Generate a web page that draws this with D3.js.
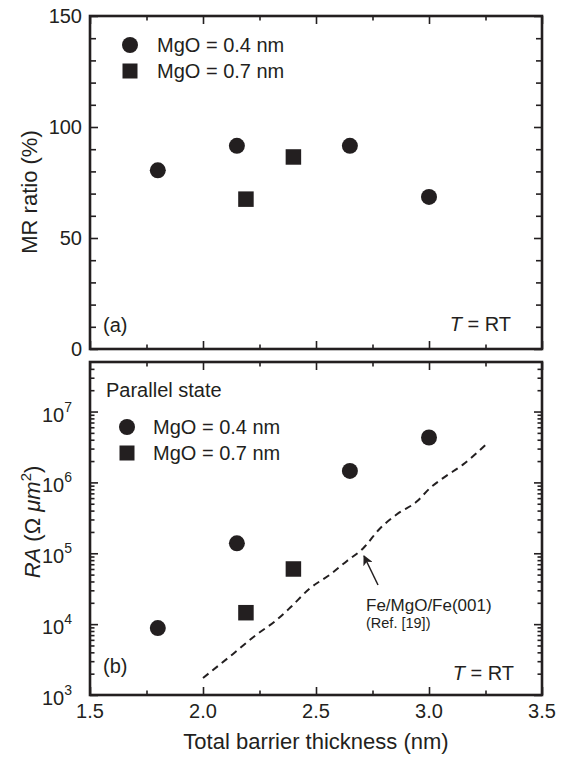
<!DOCTYPE html>
<html>
<head>
<meta charset="utf-8">
<script src="https://cdn.jsdelivr.net/npm/d3@7"></script>
<style>
  html, body { margin: 0; padding: 0; background: #fff; }
  svg { display: block; }
  text { font-family: "Liberation Sans", Arial, Helvetica, sans-serif; fill: #231f20; }
</style>
</head>
<body>
<svg id="chart" width="569" height="757"></svg>
<script>
// ---- Data ----
const thickness04 = [1.8, 2.15, 2.65, 3.0];
const mr04 = [80.5, 91.5, 91.5, 68.5];
const thickness07 = [2.19, 2.4];
const mr07 = [67.5, 86.5];
const ra04 = [8.8e3, 1.38e5, 1.45e6, 4.3e6];
const ra07 = [1.45e4, 6.0e4];
// Fe/MgO/Fe(001) reference curve (Ref. [19])
const refThickness = [2.0, 2.133, 2.239, 2.319, 2.385, 2.473, 2.562, 2.637, 2.708, 2.783, 2.858, 2.947, 3.004, 3.062, 3.15, 3.257];
const refRA = [1.74e3, 3.8e3, 7.2e3, 1.1e4, 1.7e4, 3.2e4, 5.0e4, 7.8e4, 1.17e5, 2.24e5, 3.55e5, 5.4e5, 8.3e5, 1.15e6, 1.78e6, 3.55e6];

const xTicksMajor = [1.5, 2.0, 2.5, 3.0, 3.5];
const xTicksMinor = [1.75, 2.25, 2.75, 3.25];
const xTickLabels = ["1.5", "2.0", "2.5", "3.0", "3.5"];
const mrTicksMajor = [0, 50, 100, 150];
const mrTicksMinor = [10, 20, 30, 40, 60, 70, 80, 90, 110, 120, 130, 140];
const raTicksMajor = [1e3, 1e4, 1e5, 1e6, 1e7];
const raExponents = [3, 4, 5, 6, 7];
const legendLabels = ["MgO = 0.4 nm", "MgO = 0.7 nm"];

// ---- Layout ----
const ink = "#231f20";
const L = 90, R = 542;
const topT = 16, topB = 349;
const botT = 362, botB = 695;

const svg = d3.select("#chart");

const x = d3.scaleLinear().domain([1.5, 3.5]).range([L, R]);
const yMR = d3.scaleLinear().domain([0, 150]).range([topB, topT]);
const yRA = d3.scaleLog().domain([1e3, 5e7]).range([botB, botT]);

const raMinor = [];
for (let e = 3; e <= 7; e++) for (let m = 2; m <= 9; m++) {
  const v = m * Math.pow(10, e);
  if (v < 5e7) raMinor.push(v);
}

function drawTicks(g, axisFn, scale, values, size, pos) {
  const a = axisFn(scale).tickValues(values).tickSize(size).tickSizeOuter(0).tickFormat("");
  const gg = g.append("g").attr("transform", pos).call(a);
  gg.select(".domain").remove();
  gg.selectAll(".tick line").attr("stroke", ink).attr("stroke-width", 1.6);
  return gg;
}

function panelFrame(t, b, yScale, majorY, minorY, majorLen, minorLen) {
  const g = svg.append("g");
  drawTicks(g, d3.axisBottom, x, xTicksMajor, -8, `translate(0,${b})`);
  drawTicks(g, d3.axisBottom, x, xTicksMinor, -4.5, `translate(0,${b})`);
  drawTicks(g, d3.axisTop, x, xTicksMajor, -8, `translate(0,${t})`);
  drawTicks(g, d3.axisTop, x, xTicksMinor, -4.5, `translate(0,${t})`);
  drawTicks(g, d3.axisLeft, yScale, majorY, -majorLen, `translate(${L},0)`);
  drawTicks(g, d3.axisLeft, yScale, minorY, -minorLen, `translate(${L},0)`);
  drawTicks(g, d3.axisRight, yScale, majorY, -majorLen, `translate(${R},0)`);
  drawTicks(g, d3.axisRight, yScale, minorY, -minorLen, `translate(${R},0)`);
  g.append("rect").attr("x", L).attr("y", t).attr("width", R - L).attr("height", b - t)
    .attr("fill", "none").attr("stroke", ink).attr("stroke-width", 2.6);
  return g;
}

// ---- Top panel (a) ----
panelFrame(topT, topB, yMR, mrTicksMajor, mrTicksMinor, 8, 6);
svg.append("g").selectAll("text").data(mrTicksMajor).join("text")
  .attr("x", 82).attr("y", d => yMR(d) + 7).attr("text-anchor", "end")
  .attr("font-size", 20).text(d => d);

svg.append("g").selectAll("circle").data(thickness04).join("circle")
  .attr("cx", d => x(d)).attr("cy", (d, i) => yMR(mr04[i])).attr("r", 8).attr("fill", ink);
svg.append("g").selectAll("rect").data(thickness07).join("rect")
  .attr("x", d => x(d) - 7.75).attr("y", (d, i) => yMR(mr07[i]) - 7.75)
  .attr("width", 15.5).attr("height", 15.5).attr("fill", ink);

// legend (a)
svg.append("circle").attr("cx", 130).attr("cy", 45).attr("r", 8).attr("fill", ink);
svg.append("rect").attr("x", 122.5).attr("y", 63.5).attr("width", 15).attr("height", 15).attr("fill", ink);
svg.append("text").attr("x", 157).attr("y", 52).attr("font-size", 20).text(legendLabels[0]);
svg.append("text").attr("x", 157).attr("y", 78).attr("font-size", 20).text(legendLabels[1]);

svg.append("text").attr("x", 103).attr("y", 332).attr("font-size", 20).text("(a)");
const tA = svg.append("text").attr("x", 511).attr("y", 331).attr("font-size", 20).attr("text-anchor", "end");
tA.append("tspan").attr("font-style", "italic").text("T");
tA.append("tspan").text(" = RT");

svg.append("text").attr("transform", "translate(37,192) rotate(-90)")
  .attr("text-anchor", "middle").attr("font-size", 22).text("MR ratio (%)");

// ---- Bottom panel (b) ----
panelFrame(botT, botB, yRA, raTicksMajor, raMinor, 8, 4.5);

const raLab = svg.append("g").selectAll("text").data(raTicksMajor).join("text")
  .attr("x", 72).attr("y", d => yRA(d) + 10).attr("text-anchor", "end").attr("font-size", 20);
raLab.append("tspan").text("10");
raLab.append("tspan").attr("font-size", 14).attr("dy", -10).text((d, i) => raExponents[i]);

svg.append("g").selectAll("text").data(xTicksMajor).join("text")
  .attr("x", d => x(d)).attr("y", 718).attr("text-anchor", "middle")
  .attr("font-size", 20).text((d, i) => xTickLabels[i]);

// reference dashed curve
const line = d3.line().x(d => x(d[0])).y(d => yRA(d[1])).curve(d3.curveMonotoneX);
svg.append("path").datum(refThickness.map((t, i) => [t, refRA[i]]))
  .attr("d", line).attr("fill", "none").attr("stroke", ink)
  .attr("stroke-width", 2).attr("stroke-dasharray", "7,5");

svg.append("g").selectAll("circle").data(thickness04).join("circle")
  .attr("cx", d => x(d)).attr("cy", (d, i) => yRA(ra04[i])).attr("r", 8).attr("fill", ink);
svg.append("g").selectAll("rect").data(thickness07).join("rect")
  .attr("x", d => x(d) - 7.75).attr("y", (d, i) => yRA(ra07[i]) - 7.75)
  .attr("width", 15.5).attr("height", 15.5).attr("fill", ink);

// legend (b)
svg.append("text").attr("x", 106).attr("y", 397).attr("font-size", 20).text("Parallel state");
svg.append("circle").attr("cx", 127).attr("cy", 427).attr("r", 8).attr("fill", ink);
svg.append("rect").attr("x", 119.5).attr("y", 445.5).attr("width", 15).attr("height", 15).attr("fill", ink);
svg.append("text").attr("x", 153).attr("y", 434).attr("font-size", 20).text(legendLabels[0]);
svg.append("text").attr("x", 153).attr("y", 460).attr("font-size", 20).text(legendLabels[1]);

// annotation arrow
svg.append("defs").append("marker").attr("id", "ah").attr("viewBox", "0 0 10 10")
  .attr("refX", 9).attr("refY", 5).attr("markerWidth", 10).attr("markerHeight", 10)
  .attr("markerUnits", "userSpaceOnUse").attr("orient", "auto")
  .append("path").attr("d", "M0,0 L10,5 L0,10 L2.5,5 Z").attr("fill", ink);
svg.append("line").attr("x1", 378).attr("y1", 585).attr("x2", 364).attr("y2", 556)
  .attr("stroke", ink).attr("stroke-width", 1.5).attr("marker-end", "url(#ah)");
svg.append("text").attr("x", 366).attr("y", 611).attr("font-size", 17).text("Fe/MgO/Fe(001)");
svg.append("text").attr("x", 366).attr("y", 628).attr("font-size", 14.5).text("(Ref. [19])");

svg.append("text").attr("x", 103).attr("y", 673).attr("font-size", 20).text("(b)");
const tB = svg.append("text").attr("x", 514).attr("y", 680).attr("font-size", 20).attr("text-anchor", "end");
tB.append("tspan").attr("font-style", "italic").text("T");
tB.append("tspan").text(" = RT");

const yl = svg.append("text").attr("transform", "translate(40,522) rotate(-90)")
  .attr("text-anchor", "middle").attr("font-size", 22);
yl.append("tspan").attr("font-style", "italic").text("RA");
yl.append("tspan").text(" (Ω ");
yl.append("tspan").attr("font-style", "italic").text("μm");
yl.append("tspan").attr("font-size", 15).attr("dy", -9).text("2");
yl.append("tspan").attr("dy", 9).text(")");

svg.append("text").attr("x", (L + R) / 2).attr("y", 749).attr("text-anchor", "middle")
  .attr("font-size", 22).text("Total barrier thickness (nm)");
</script>
</body>
</html>
